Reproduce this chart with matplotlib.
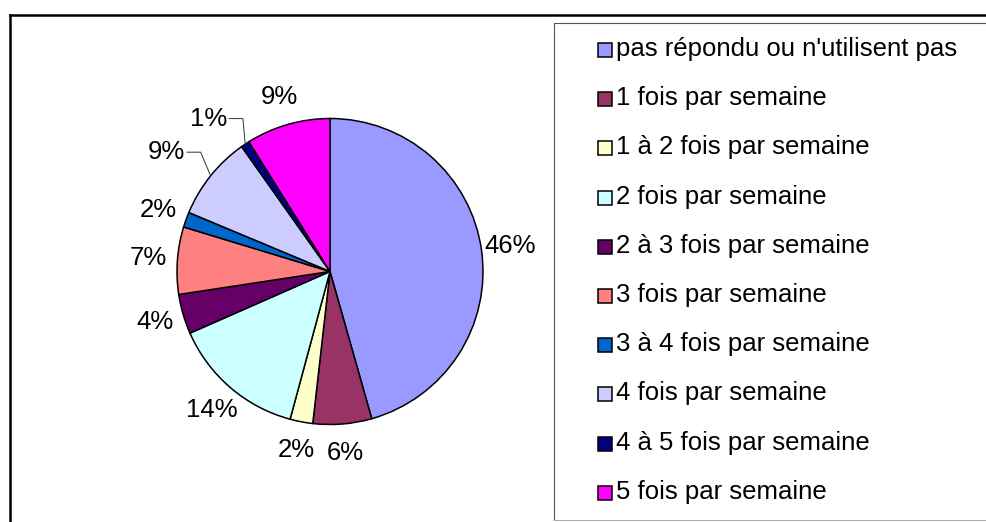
import numpy as np
import matplotlib.pyplot as plt
from matplotlib.patches import Rectangle
from matplotlib.lines import Line2D

plt.rcParams['font.family'] = ['Liberation Sans', 'DejaVu Sans']

categories = ["pas répondu ou n'utilisent pas", '1 fois par semaine', '1 à 2 fois par semaine',
              '2 fois par semaine', '2 à 3 fois par semaine', '3 fois par semaine',
              '3 à 4 fois par semaine', '4 fois par semaine', '4 à 5 fois par semaine',
              '5 fois par semaine']
shares = [45.6, 6.2, 2.4, 14.2, 4.2, 7.1, 1.6, 8.9, 0.9, 8.9]
colors = ['#9999FF', '#993366', '#FFFFCC', '#CCFFFF', '#660066',
          '#FF8080', '#0066CC', '#CCCCFF', '#000080', '#FF00FF']
# slices whose labels sit further out with a leader line
leader = [7, 8]

W, H = 986, 522
FS = 18.5
fig = plt.figure(figsize=(W / 100, H / 100), dpi=100)

# pie centred at (330, 271.5) px, radius 153 px
cx, cy, r_px = 330, 271.5, 153
ax = fig.add_axes([(cx - 200) / W, (H - cy - 200) / H, 400 / W, 400 / H])
wedges, _ = ax.pie(shares, colors=colors, startangle=90, counterclock=False,
                   wedgeprops=dict(edgecolor='black', linewidth=1.1))
lim = 200 / r_px
ax.set_xlim(-lim, lim)
ax.set_ylim(-lim, lim)
ax.axis('off')

total = sum(shares)
for i, w in enumerate(wedges):
    mid = (w.theta1 + w.theta2) / 2
    a = np.deg2rad(mid)
    txt = '%.0f%%' % (shares[i] / total * 100)
    if i in leader:
        ex, ey = np.cos(a), np.sin(a)
        b = np.deg2rad(mid - 4)
        kx, ky = 1.15 * np.cos(b), 1.15 * np.sin(b)
        ax.plot([ex, kx, kx - 0.09], [ey, ky, ky], color='#333333', lw=0.7)
        ax.text(kx - 0.1, ky, txt, ha='right', va='center', fontsize=FS)
    else:
        ax.text(1.19 * np.cos(a), 1.19 * np.sin(a), txt, ha='center', va='center',
                fontsize=FS)

# outer chart frame (right and bottom run off the picture)
fx, fy = 9.7 / W, 1 - 14.5 / H
fig.add_artist(Line2D([fx, fx], [-0.1, fy], color='black', lw=1.8))
fig.add_artist(Line2D([fx, 1.1], [fy, fy], color='black', lw=1.8))

# legend box
lx, ly_top, ly_bot = 553.5 / W, 1 - 23 / H, 1 - 519.5 / H
fig.add_artist(Line2D([lx, lx, 1.1], [ly_bot, ly_top, ly_top], color='#555555', lw=0.8))
fig.add_artist(Line2D([lx, 1.1], [ly_bot, ly_bot], color='#aaaaaa', lw=0.8))

row0, step = 50, 49.2
sw = 14
for i, (lab, col) in enumerate(zip(categories, colors)):
    yc = row0 + step * i
    fig.add_artist(Rectangle((598 / W, 1 - (yc + sw / 2) / H), sw / W, sw / H,
                             facecolor=col, edgecolor='black', lw=1.1,
                             transform=fig.transFigure))
    fig.text(616 / W, 1 - (yc - 1) / H, lab, ha='left', va='center', fontsize=FS)

fig.savefig('out.png', dpi=100, facecolor='white')
